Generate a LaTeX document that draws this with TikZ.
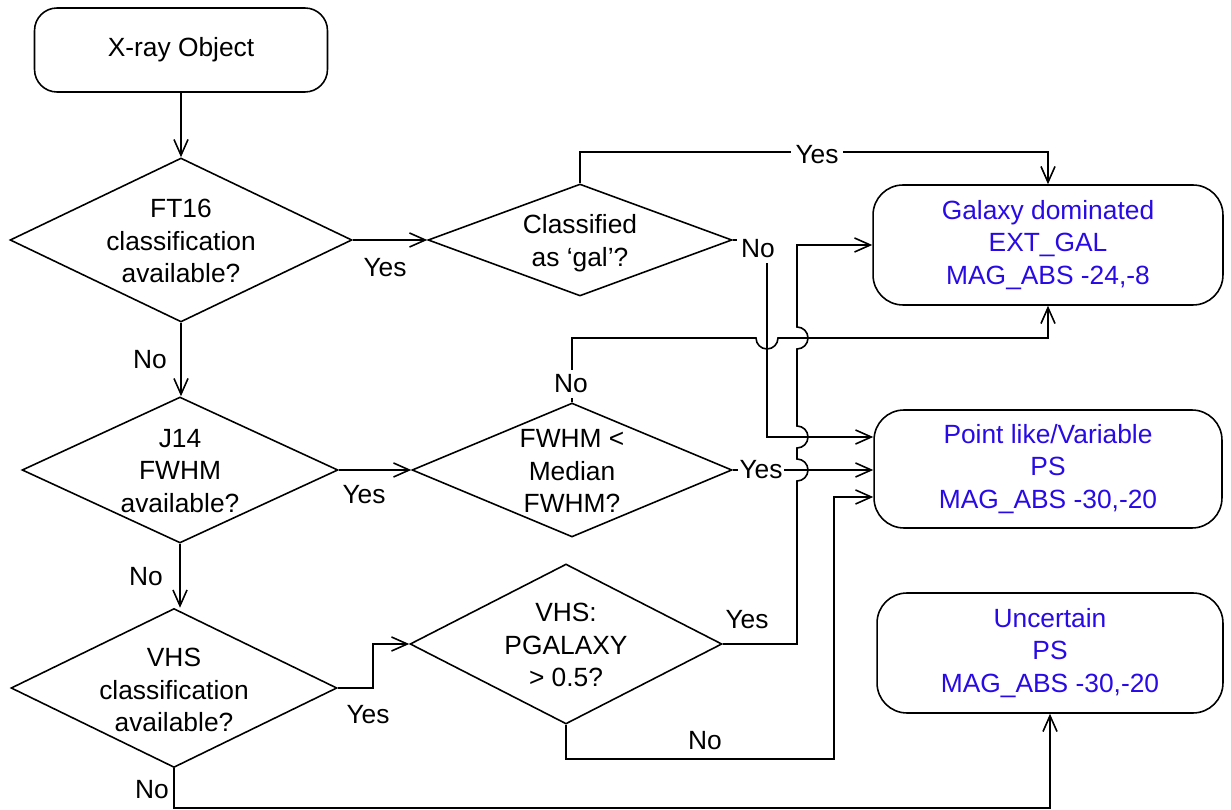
\documentclass[tikz,border=0pt]{standalone}
\usepackage{fontspec}
\setmainfont{Liberation Sans}
\usetikzlibrary{shapes.geometric,arrows.meta}
\definecolor{outblue}{RGB}{40,10,230}
\begin{document}
\begin{tikzpicture}[x=0.02cm,y=-0.02cm,
  every node/.style={font=\fontsize{15}{18.5}\selectfont},
  line/.style={line width=0.9pt},
  arr/.style={line, -{Straight Barb[length=9pt,width=8pt]}},
  rbox/.style={draw, line width=0.9pt, rounded corners=0.45cm, inner sep=0pt, align=center},
  outbox/.style={rbox, rounded corners=0.6cm, text=outblue},
  dia/.style={draw, diamond, line width=0.9pt, inner sep=0pt},
  txt/.style={align=center, inner sep=0pt},
  lbl/.style={inner sep=1pt},
  wlbl/.style={fill=white, inner sep=2.5pt},
]
\useasboundingbox (0,0) rectangle (1231,810);

% nodes
\node[rbox, minimum width=5.86cm, minimum height=1.68cm] (xray) at (181,50) {X-ray Object};

\node[dia, minimum width=6.84cm, minimum height=3.28cm] (d1) at (181,240) {};
\node[txt] (t1) at (181,241) {FT16\\classification\\available?};

\node[dia, minimum width=6.08cm, minimum height=2.24cm] (d2) at (580,240) {};
\node[txt] (t2) at (580,243) {Classified\\as ‘gal’?};

\node[dia, minimum width=6.32cm, minimum height=2.92cm] (d3) at (180,470) {};
\node[txt] (t3) at (180,471) {J14\\FWHM\\available?};

\node[dia, minimum width=6.4cm, minimum height=2.68cm] (d4) at (572,470) {};
\node[txt] (t4) at (572,471) {FWHM <\\Median\\FWHM?};

\node[dia, minimum width=6.52cm, minimum height=3.18cm] (d5) at (174,688) {};
\node[txt] (t5) at (174,690) {VHS\\classification\\available?};

\node[dia, minimum width=6.24cm, minimum height=3.2cm] (d6) at (566,644) {};
\node[txt] (t6) at (566,645) {VHS:\\PGALAXY\\> 0.5?};

\node[outbox, minimum width=7.0cm, minimum height=2.4cm] (gal) at (1048,245) {Galaxy dominated\\EXT\_GAL\\MAG\_ABS -24,-8};
\node[outbox, minimum width=6.96cm, minimum height=2.36cm] (pt) at (1048,469) {Point like/Variable\\PS\\MAG\_ABS -30,-20};
\node[outbox, minimum width=6.92cm, minimum height=2.4cm] (unc) at (1050,653) {Uncertain\\PS\\MAG\_ABS -30,-20};

% connectors
\draw[arr] (xray.south) -- (xray.south |- d1.north);
\draw[arr] (d1.east) -- (d2.west);
\draw[arr] (d1.south) -- (d1.south |- d3.north);
\draw[arr] (d3.east) -- (d4.west);
\draw[arr] (d3.south) -- (d3.south |- d5.north);
\draw[arr] (d5.east) -- (373,688) |- (d6.west);

\draw[arr] (d2.north) -- (580,152) -| (gal.north);
\draw[arr] (d2.east) -- (767,240) -- (767,437) -- ([yshift=0.64cm]pt.west);
\draw[arr] (d4.north) -- (572,338) -- (756,338)
   arc[start angle=180,end angle=360,radius=0.22cm] -| (gal.south);
\draw[arr] (d4.east) -- (d4.east -| pt.west);
\draw[arr] (d6.east) -- (797,644) -- (797,481)
   arc[start angle=-90,end angle=90,radius=0.22cm] -- (797,448)
   arc[start angle=-90,end angle=90,radius=0.22cm] -- (797,349)
   arc[start angle=-90,end angle=90,radius=0.22cm] |- (gal.west);
\draw[arr] (d6.south) |- (834,759) |- ([yshift=-0.56cm]pt.west);
\draw[arr] (d5.south) -- (174,808) -| (unc.south);

% labels
\node[lbl] (l1) at (385,268) {Yes};
\node[lbl] (l2) at (150,360) {No};
\node[wlbl] (l3) at (817,155) {Yes};
\node[wlbl] (l4) at (758,249) {No};
\node[wlbl] (l5) at (571,384) {No};
\node[wlbl, inner sep=1pt] (l6) at (761,470) {Yes};
\node[lbl] (l7) at (364,495) {Yes};
\node[lbl] (l8) at (146,577) {No};
\node[lbl] (l9) at (368,715) {Yes};
\node[lbl] (l10) at (747,620) {Yes};
\node[lbl] (l11) at (705,741) {No};
\node[lbl] (l12) at (152,790) {No};
\end{tikzpicture}
\end{document}
